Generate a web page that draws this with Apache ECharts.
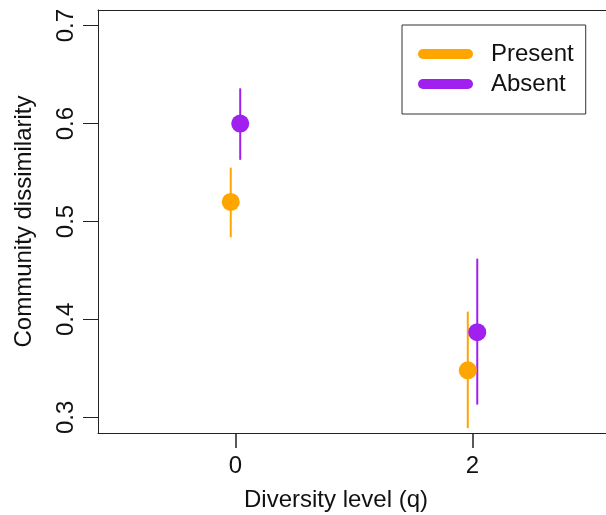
<!DOCTYPE html>
<html>
<head>
<meta charset="utf-8">
<script src="https://cdn.jsdelivr.net/npm/echarts@6/dist/echarts.min.js"></script>
<style>
  html, body { margin: 0; padding: 0; background: #fff; }
  #chart { width: 606px; height: 515px; }
</style>
</head>
<body>
<div id="chart"></div>
<script>
// diversity levels and group means with error bars
var qLevels = [0, 2];
var presentMean = [0.520, 0.348];
var presentLow = [0.484, 0.289];
var presentHigh = [0.555, 0.408];
var absentMean = [0.600, 0.387];
var absentLow = [0.563, 0.313];
var absentHigh = [0.636, 0.462];
var yTicks = [0.3, 0.4, 0.5, 0.6, 0.7];
var xTicks = [0, 2];

var FONT = 'Liberation Sans, Arial, Helvetica, sans-serif';
var dodge = 0.04;
var xMin = -1.16, xMax = 3.16;
var yMin = 0.284, yMax = 0.716;
var axisColor = '#222';

function pointData(mean, shift) {
    return qLevels.map(function (q, i) { return [q + shift, mean[i]]; });
}
function barData(low, high, shift) {
    return qLevels.map(function (q, i) { return [q + shift, low[i], high[i]]; });
}
function renderBar(params, api) {
    var p1 = api.coord([api.value(0), api.value(1)]);
    var p2 = api.coord([api.value(0), api.value(2)]);
    return {
        type: 'line',
        shape: { x1: p1[0], y1: p1[1], x2: p2[0], y2: p2[1] },
        style: { stroke: api.visual('color'), lineWidth: 2 }
    };
}

var lineIcon = 'path://M5,0 L50,0 A5,5 0 0 1 50,10 L5,10 A5,5 0 0 1 5,0 Z';

var option = {
    animation: false,
    grid: { left: 98, top: 10, right: -4, bottom: 82, containLabel: false, outerBoundsMode: 'none' },
    legend: {
        orient: 'vertical',
        left: 402, top: 25,
        padding: [16, 12, 17, 16],
        itemGap: 4,
        itemWidth: 55, itemHeight: 10,
        borderColor: '#333', borderWidth: 1,
        textStyle: { fontFamily: FONT, fontSize: 24, color: '#111', lineHeight: 26, padding: [0, 0, 0, 13] },
        data: [
            { name: 'Present', icon: lineIcon },
            { name: 'Absent', icon: lineIcon }
        ]
    },
    xAxis: [
        {
            type: 'value',
            min: xMin, max: xMax,
            name: 'Diversity level (q)',
            nameLocation: 'middle',
            nameGap: 55,
            nameTextStyle: { fontFamily: FONT, fontSize: 24, color: '#111', padding: [0, 36, 0, 0] },
            splitLine: { show: false },
            axisLine: { show: true, onZero: false, lineStyle: { color: axisColor, width: 1 } },
            axisTick: { show: true, inside: false, length: 15, customValues: xTicks, lineStyle: { color: axisColor, width: 1.5 } },
            axisLabel: { customValues: xTicks, margin: 21, fontFamily: FONT, fontSize: 24, color: '#111' }
        },
        {
            // top edge of the box
            type: 'value', position: 'top',
            min: xMin, max: xMax,
            splitLine: { show: false },
            axisLine: { show: true, onZero: false, lineStyle: { color: axisColor, width: 1 } },
            axisTick: { show: false },
            axisLabel: { show: false }
        }
    ],
    yAxis: {
        type: 'value',
        min: yMin, max: yMax,
        name: 'Community dissimilarity',
        nameLocation: 'middle',
        nameRotate: 90,
        nameGap: 62,
        nameTextStyle: { fontFamily: FONT, fontSize: 24, color: '#111' },
        splitLine: { show: false },
        axisLine: { show: true, onZero: false, lineStyle: { color: axisColor, width: 1 } },
        axisTick: { show: true, length: 15, customValues: yTicks, lineStyle: { color: axisColor, width: 1 } },
        axisLabel: {
            customValues: yTicks, rotate: 90, margin: 20,
            fontFamily: FONT, fontSize: 24, color: '#111',
            formatter: function (v) { return v.toFixed(1); }
        }
    },
    series: [
        {
            name: 'Present', type: 'custom', renderItem: renderBar,
            itemStyle: { color: '#FFA500' },
            encode: { x: 0, y: [1, 2] },
            data: barData(presentLow, presentHigh, -dodge)
        },
        {
            name: 'Present', type: 'scatter', symbolSize: 18,
            itemStyle: { color: '#FFA500', opacity: 1 },
            data: pointData(presentMean, -dodge)
        },
        {
            name: 'Absent', type: 'custom', renderItem: renderBar,
            itemStyle: { color: '#A020F0' },
            encode: { x: 0, y: [1, 2] },
            data: barData(absentLow, absentHigh, dodge)
        },
        {
            name: 'Absent', type: 'scatter', symbolSize: 18,
            itemStyle: { color: '#A020F0', opacity: 1 },
            data: pointData(absentMean, dodge)
        }
    ]
};

var chart = echarts.init(document.getElementById('chart'));
chart.setOption(option);
</script>
</body>
</html>
